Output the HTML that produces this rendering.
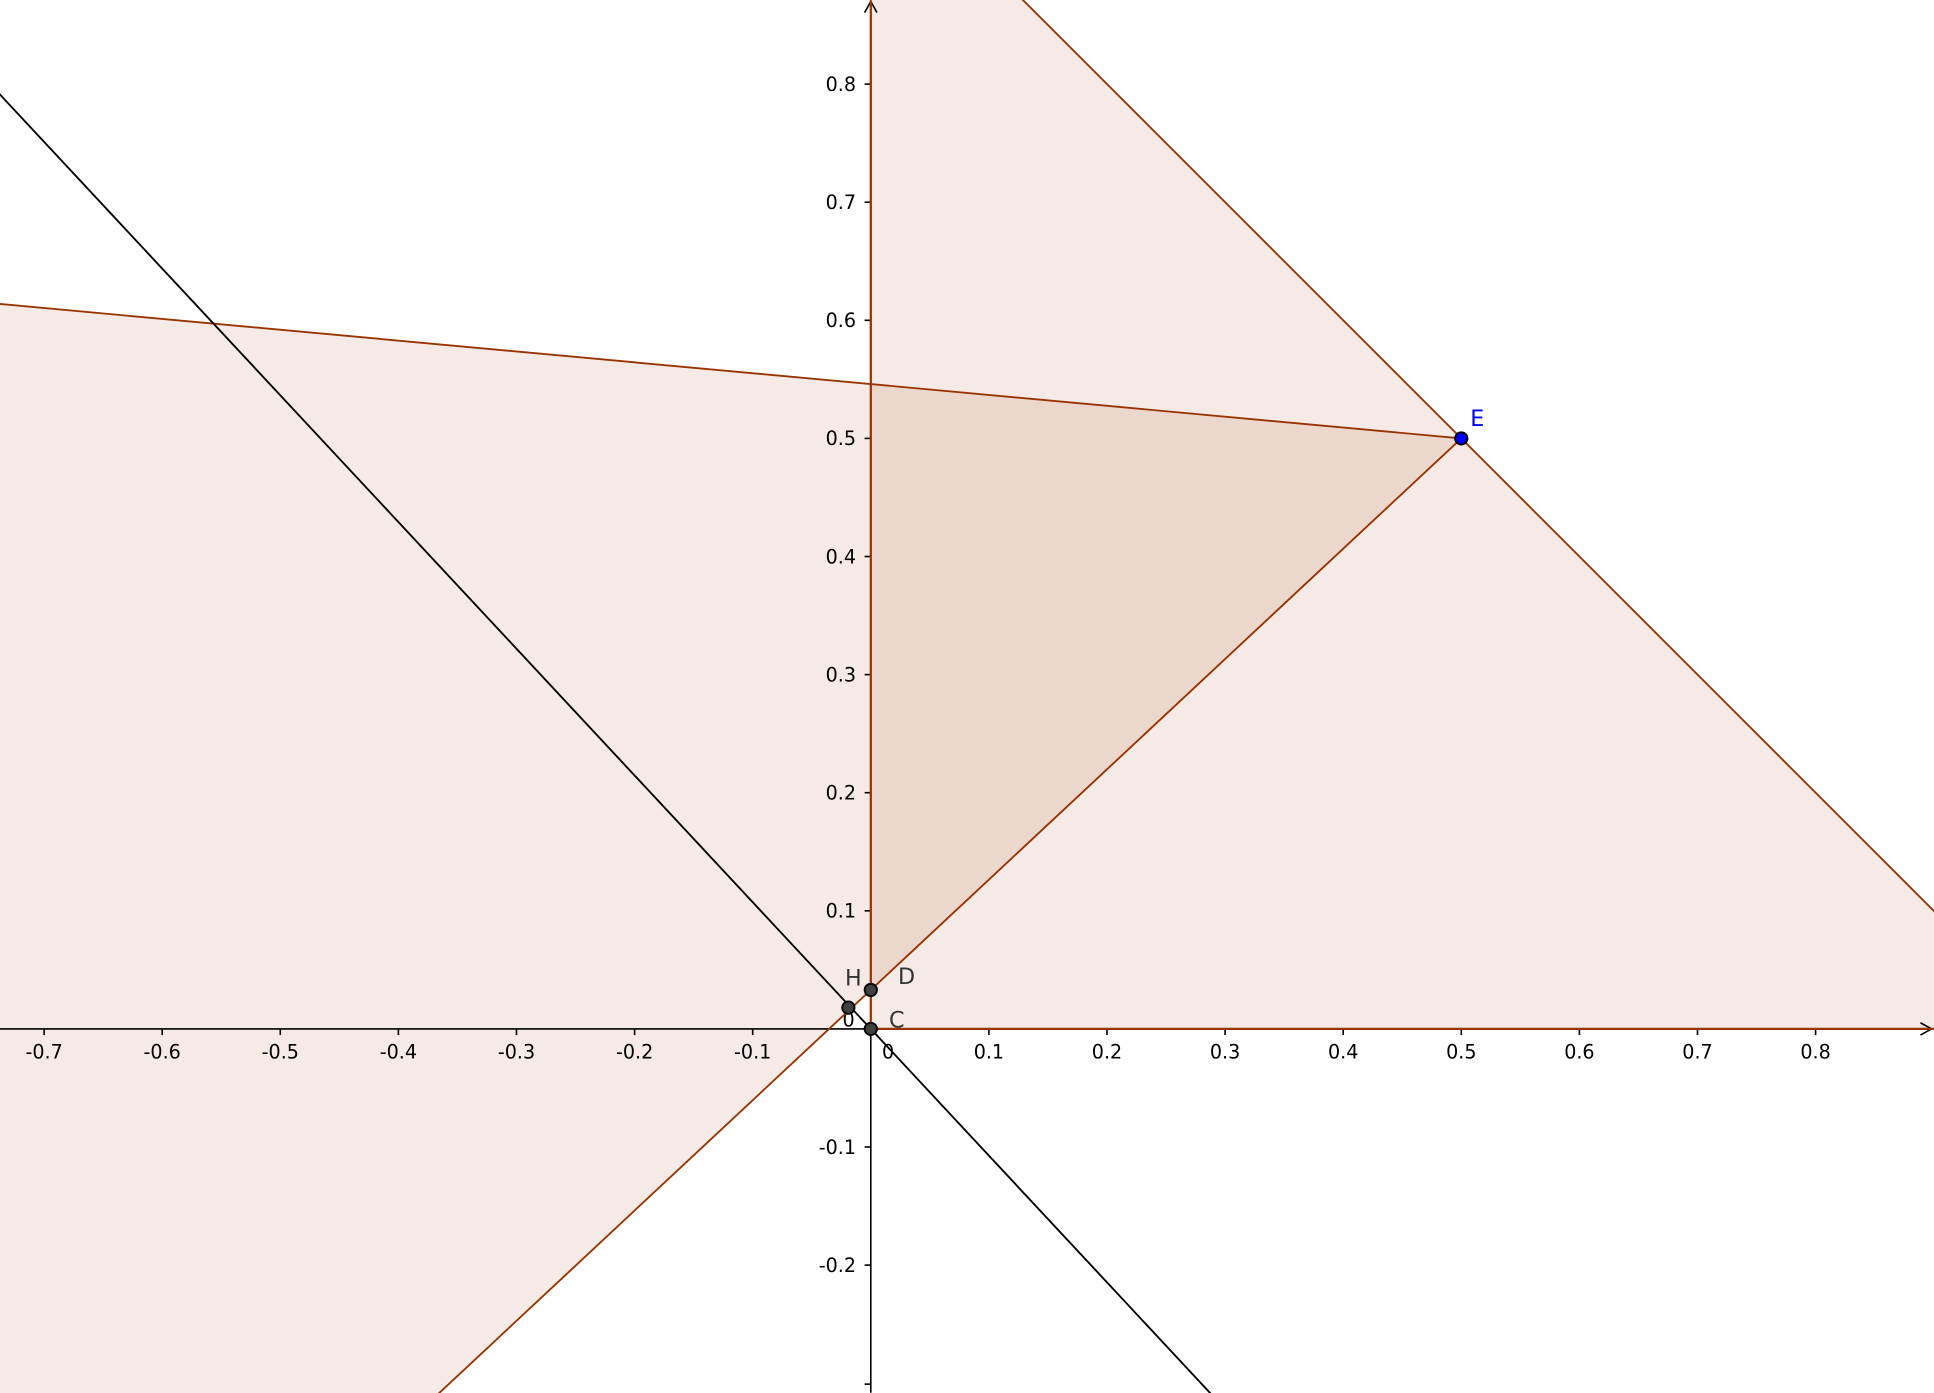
<!DOCTYPE html>
<html><head><meta charset="utf-8">
<style>
html,body{margin:0;padding:0;background:#fff;overflow:hidden;width:1934px;height:1393px;}
svg{display:block;}
text{font-family:"DejaVu Sans","Liberation Sans",sans-serif;}
</style></head>
<body>
<svg id="chart" width="1934" height="1393" viewBox="0 0 1568 1129" xmlns="http://www.w3.org/2000/svg">
<g id="fills"></g>
<g id="axes"></g>
<g id="lines"></g>
<g id="points"></g>
</svg>
<script>
const xTicks = [-0.7,-0.6,-0.5,-0.4,-0.3,-0.2,-0.1,0.1,0.2,0.3,0.4,0.5,0.6,0.7,0.8];
const yTicks = [-0.2,-0.1,0.1,0.2,0.3,0.4,0.5,0.6,0.7,0.8];
const pointNames = ["C","D","H","E"];
const pointX = [0, 0, -0.019, 0.5];
const pointY = [0, 0.033, 0.018, 0.5];
const blackSlope = [-1.073];
const lineIntercept = [0.546, 0.033, 1];
const lineSlope = [-0.092, 0.934, -1];

const OX=706, OY=834, S=957.5;
const sx = x => OX + x*S;
const sy = y => OY - y*S;
const NS="http://www.w3.org/2000/svg";
const X0=-0.74, X1=0.9, Y0=-0.31, Y1=0.875;
function mk(tag, attrs, parent){const e=document.createElementNS(NS,tag);for(const k in attrs)e.setAttribute(k,attrs[k]);parent.appendChild(e);return e;}
const fills=document.getElementById('fills'), axes=document.getElementById('axes'), lines=document.getElementById('lines'), pts=document.getElementById('points');
const fy=(i,x)=>lineIntercept[i]+lineSlope[i]*x;
const pstr=a=>a.map(p=>sx(p[0])+','+sy(p[1])).join(' ');
const ex=(lineIntercept[1]-lineIntercept[0])/(lineSlope[0]-lineSlope[1]);
const ey=fy(0,ex);
const xb=(Y0-lineIntercept[1])/lineSlope[1];
let r1=mk('polygon',{points:pstr([[X0,fy(0,X0)],[ex,ey],[xb,Y0],[X0,Y0]]),fill:'#993300','fill-opacity':0.1},fills);


const xt=(Y1-lineIntercept[2])/lineSlope[2];
let r2=mk('polygon',{points:pstr([[0,0],[0,Y1],[xt,Y1],[X1,fy(2,X1)],[X1,0]]),fill:'#993300','fill-opacity':0.1},fills);


let xa=mk('line',{x1:0,y1:OY,x2:1566,y2:OY,stroke:'#000','stroke-width':1.3},axes);

mk('path',{d:`M1557 ${OY-5} L1566 ${OY} L1557 ${OY+5}`,fill:'none',stroke:'#000','stroke-width':1.3},axes);
let ya=mk('line',{x1:OX,y1:1129,x2:OX,y2:1,stroke:'#000','stroke-width':1.3},axes);

mk('path',{d:`M${OX-5} 10 L${OX} 1 L${OX+5} 10`,fill:'none',stroke:'#000','stroke-width':1.3},axes);
xTicks.forEach(v=>{
  mk('line',{x1:sx(v),y1:OY,x2:sx(v),y2:OY+5,stroke:'#000','stroke-width':1.3},axes);
  let t=mk('text',{x:sx(v),y:OY+24,'font-size':15.5,'text-anchor':'middle',fill:'#000'},axes);
  t.textContent=v.toFixed(1);
  
});
yTicks.forEach(v=>{
  mk('line',{x1:OX-5,y1:sy(v),x2:OX,y2:sy(v),stroke:'#000','stroke-width':1.3},axes);
  let t=mk('text',{x:OX-12,y:sy(v)+5.5,'font-size':15.5,'text-anchor':'end',fill:'#000'},axes);
  t.textContent=v.toFixed(1);
  
});
mk('line',{x1:OX-5,y1:1122,x2:OX,y2:1122,stroke:'#000','stroke-width':1.3},axes);
let z1=mk('text',{x:720,y:OY+24,'font-size':15.5,'text-anchor':'middle',fill:'#000'},axes);z1.textContent='0';

let z2=mk('text',{x:688,y:OY-2,'font-size':15.5,'text-anchor':'middle',fill:'#000'},axes);z2.textContent='0';

mk('line',{x1:OX,y1:0,x2:OX,y2:OY,stroke:'#993300','stroke-width':1.8},lines);
mk('line',{x1:OX,y1:OY,x2:1568,y2:OY,stroke:'#993300','stroke-width':1.8},lines);
let l0=mk('line',{x1:sx(-1),y1:sy(fy(0,-1)),x2:sx(ex),y2:sy(ey),stroke:'#993300','stroke-width':1.5},lines);

let l1=mk('line',{x1:sx(-1),y1:sy(fy(1,-1)),x2:sx(ex),y2:sy(ey),stroke:'#993300','stroke-width':1.5},lines);

let l2=mk('line',{x1:sx(-1),y1:sy(fy(2,-1)),x2:sx(1.2),y2:sy(fy(2,1.2)),stroke:'#993300','stroke-width':1.5},lines);

let bl=mk('line',{x1:sx(-1),y1:sy(-blackSlope[0]),x2:sx(0.5),y2:sy(blackSlope[0]*0.5),stroke:'#000','stroke-width':1.5},lines);

const lab={C:[21,-1],D:[29,-5],H:[4,-18],E:[13,-10]};
pointNames.forEach((n,i)=>{
  const blue=n==='E';
  let c=mk('circle',{cx:sx(pointX[i]),cy:sy(pointY[i]),r:5,fill:blue?'#0000ff':'#404040',stroke:'#000','stroke-width':1.5},pts);
  
  let t=mk('text',{x:sx(pointX[i])+lab[n][0],y:sy(pointY[i])+lab[n][1],'font-size':18,'text-anchor':'middle',fill:blue?'#0000ff':'#333'},pts);
  t.textContent=n;
  
});
</script>
</body></html>
